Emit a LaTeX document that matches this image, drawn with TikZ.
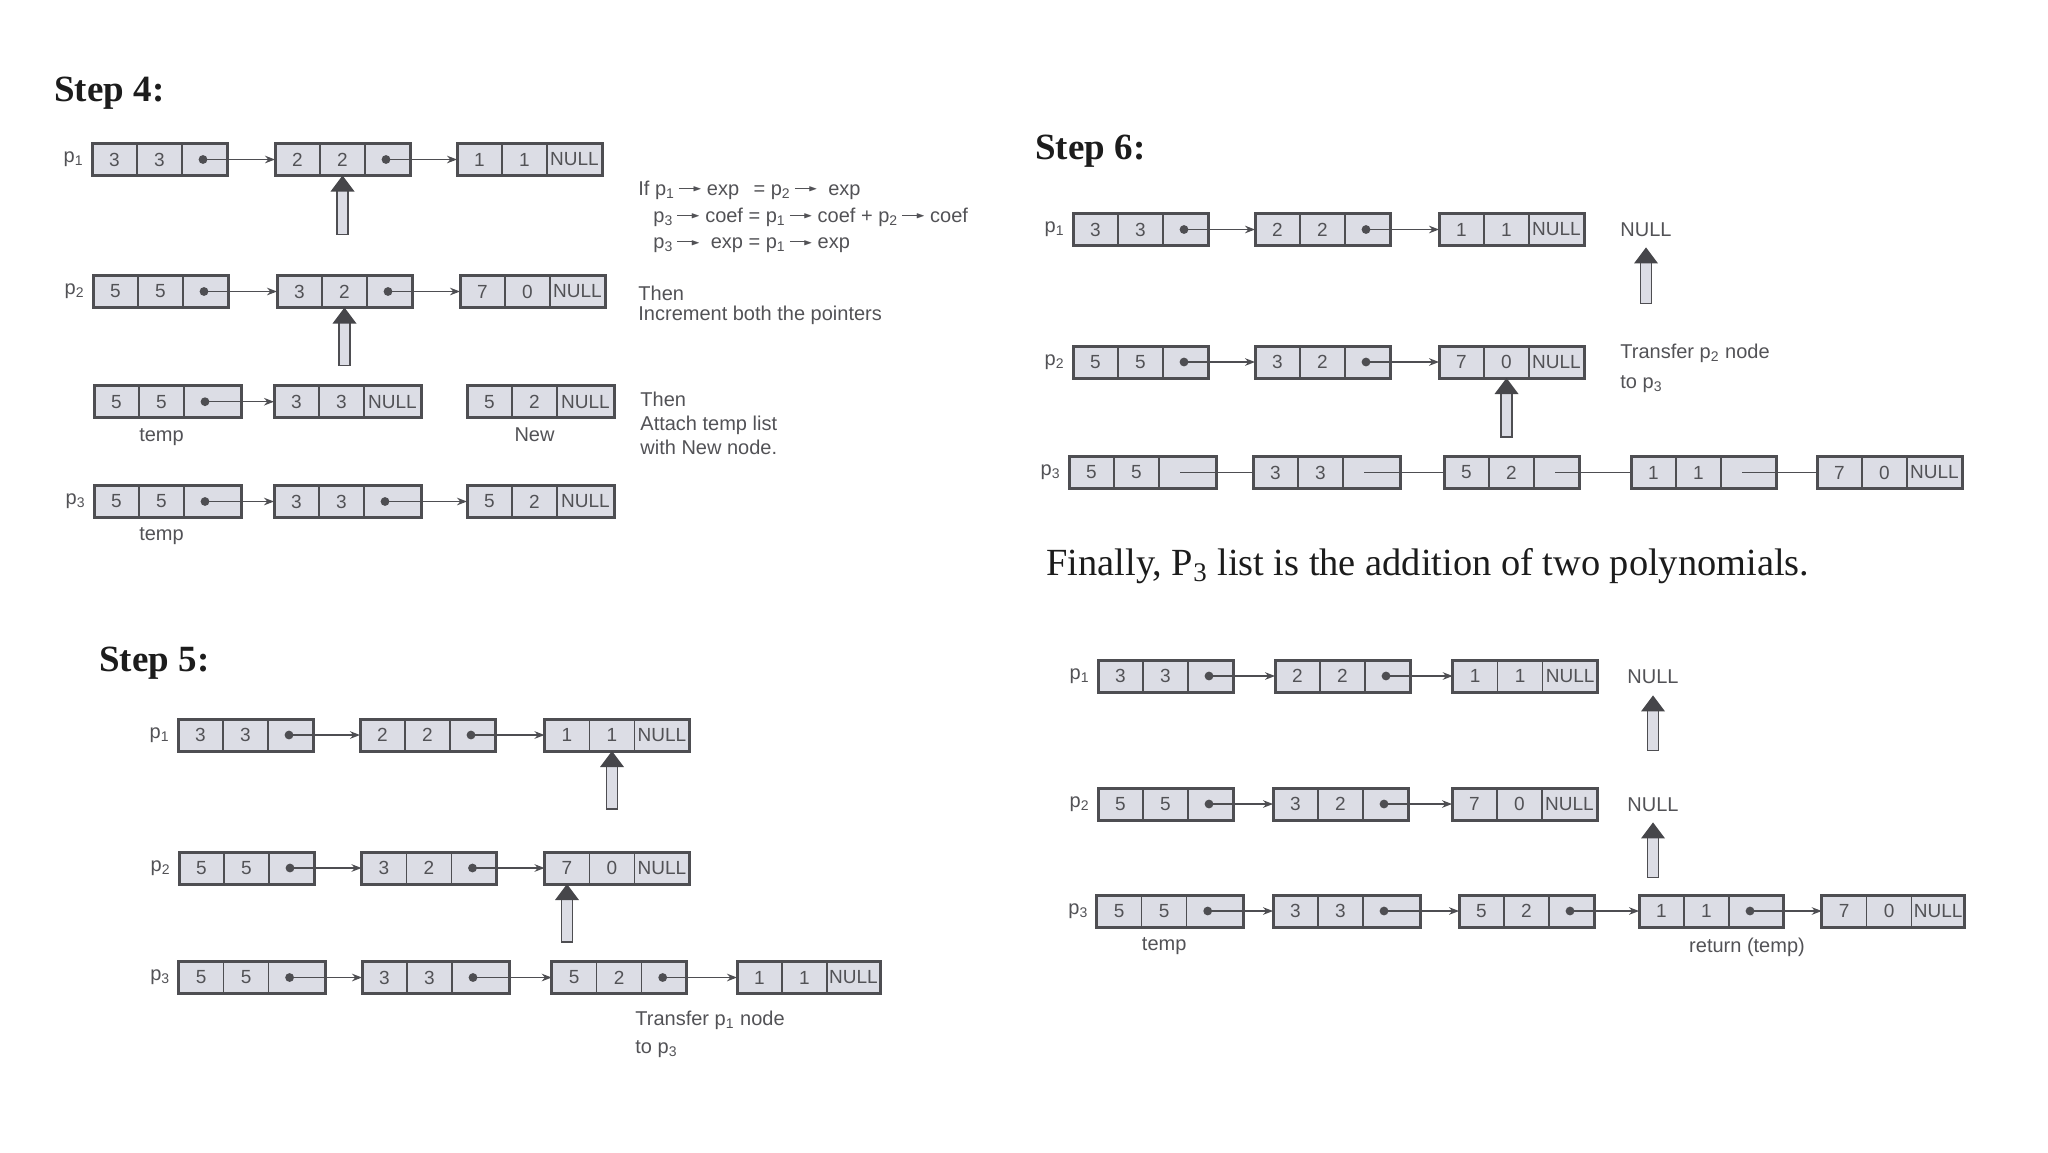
\documentclass[tikz,border=0pt]{standalone}
\usepackage{amssymb}
\usepackage{fontspec}
\setmainfont{Liberation Serif}
\setsansfont{Liberation Sans}
\usetikzlibrary{calc,positioning,arrows.meta}
\definecolor{boxfill}{RGB}{220,221,229}
\definecolor{edge}{RGB}{78,78,82}
\definecolor{ink}{RGB}{82,82,86}
\definecolor{headcol}{RGB}{70,70,74}
\definecolor{dark}{RGB}{28,28,28}
\tikzset{
	cell/.style={draw=edge, fill=boxfill, line width=0.6pt, minimum width=22.5pt, minimum height=16pt, inner sep=0pt, outer sep=0pt, font=\sffamily\fontsize{9.5}{10}\selectfont, text=ink},
	boxedge/.style={draw=edge, line width=1.5pt},
	ptr/.style={draw=edge, line width=0.6pt, -{Stealth[length=5pt,width=3.8pt]}},
	bare/.style={draw=edge, line width=0.6pt},
	txt/.style={font=\sffamily\fontsize{10}{12}\selectfont, text=ink, inner sep=0pt},
	note/.style={txt, anchor=west},
	head/.style={font=\bfseries\fontsize{18.5}{20}\selectfont, text=dark, anchor=base west, inner sep=0pt},
	bigshaft/.style={draw=edge, fill=boxfill, line width=0.7pt},
	arrhead/.style={fill=headcol}
}
% one list node: [link cell width](name)(west point){coef}{exp}{link}
\def\polynode[#1](#2)(#3)#4#5#6{%
	\node[cell, anchor=west] (#2a) at (#3) {#4};
	\node[cell, right=0pt of #2a] (#2b) {#5};
	\node[cell, minimum width={#1*0.5pt}, right=0pt of #2b] (#2c) {#6};
	\draw[boxedge] (#2a.north west) rectangle (#2c.south east);
	\coordinate (#2d) at ($(#2c.west)+(21,0)$);
}
\def\ptrlink(#1)(#2){\fill[edge] (#1d) circle (2.2pt); \draw[ptr] (#1d) -- (#2a.west);}
\def\barelink(#1)(#2){\draw[bare] (#1d) -- (#2a.west);}
% hollow pointer arrow, tip at #1, length #2
\def\hollowup(#1)#2{%
	\draw[bigshaft] ($(#1)+(-5.5,15)$) rectangle ($(#1)+(5.5,#2)$);
	\fill[arrhead] (#1) -- ($(#1)+(-12,16)$) -- ($(#1)+(12,16)$) -- cycle;
}
\newcommand\tarrow{\kern0.2em\rule[0.3em]{0.8em}{0.07em}\kern-0.12em\raisebox{0.16em}{\scalebox{0.6}[0.45]{$\blacktriangleright$}}\kern0.25em}

\begin{document}
\begin{tikzpicture}[x=0.5pt, y=-0.5pt]
			\useasboundingbox (0,0) rectangle (2048,1152);
			
			%%%%% STEP 4 %%%%%
			\node[head] (h4) at (54,101.7) {Step 4:};
			
			\polynode[45](s4p1n1)(92,159.5){3}{3}{}
			\polynode[45](s4p1n2)(275,159.5){2}{2}{}
			\polynode[55](s4p1n3)(457,159.5){1}{1}{NULL}
			\ptrlink(s4p1n1)(s4p1n2)
			\ptrlink(s4p1n2)(s4p1n3)
			\node[txt, left=4pt of s4p1n1a] (s4l1) {p\textsubscript{1}};
			\hollowup(s4p1n2b.south){59}
			
			\polynode[45](s4p2n1)(93,291.5){5}{5}{}
			\polynode[45](s4p2n2)(277,291.5){3}{2}{}
			\polynode[55](s4p2n3)(460,291.5){7}{0}{NULL}
			\ptrlink(s4p2n1)(s4p2n2)
			\ptrlink(s4p2n2)(s4p2n3)
			\node[txt, left=4pt of s4p2n1a] (s4l2) {p\textsubscript{2}};
			\hollowup(s4p2n2b.south){58}
			
			\polynode[57](s4t1)(94,401.7){5}{5}{}
			\polynode[57](s4t2)(274,401.7){3}{3}{NULL}
			\polynode[57](s4new)(467,401.7){5}{2}{NULL}
			\ptrlink(s4t1)(s4t2)
			\node[txt, below=5pt of s4t1b] (s4tmp1) {temp};
			\node[txt, below=5pt of s4newb] (s4newl) {New};
			
			\polynode[57](s4p3n1)(94,501.5){5}{5}{}
			\polynode[57](s4p3n2)(274,501.5){3}{3}{}
			\polynode[57](s4p3n3)(467,501.5){5}{2}{NULL}
			\ptrlink(s4p3n1)(s4p3n2)
			\ptrlink(s4p3n2)(s4p3n3)
			\node[txt, left=4pt of s4p3n1a] (s4l3) {p\textsubscript{3}};
			\node[txt, below=5pt of s4p3n1b] (s4tmp2) {temp};
			
			\node[note] (s4if) at (638,190) {If p\textsubscript{1}\tarrow exp \ \,= p\textsubscript{2}\tarrow\ exp};
			\node[note] (s4coef) at (653,217) {p\textsubscript{3}\tarrow coef = p\textsubscript{1}\tarrow coef + p\textsubscript{2}\tarrow coef};
			\node[note] (s4exp) at (653,245) {p\textsubscript{3}\tarrow\ exp = p\textsubscript{1}\tarrow exp};
			\node[note] (s4then1) at (638,293) {Then};
			\node[note] (s4then2) at (638,315) {Increment both the pointers};
			\node[note, align=left] (s4then3) at (640,423) {Then\\Attach temp list\\with New node.};
			
			%%%%% STEP 6 %%%%%
			\node[head] (h6) at (1035,159) {Step 6:};
			
			\polynode[45](s6p1n1)(1073,229.5){3}{3}{}
			\polynode[45](s6p1n2)(1255,229.5){2}{2}{}
			\polynode[55](s6p1n3)(1439,229.5){1}{1}{NULL}
			\ptrlink(s6p1n1)(s6p1n2)
			\ptrlink(s6p1n2)(s6p1n3)
			\node[txt, left=4pt of s6p1n1a] (s6l1) {p\textsubscript{1}};
			\node[txt] (s6null) at (1646,230) {NULL};
			\coordinate (s6nulltip) at ($(s6null.south)+(0,10)$);
			\hollowup(s6nulltip){56}
			
			\polynode[45](s6p2n1)(1073,362){5}{5}{}
			\polynode[45](s6p2n2)(1255,362){3}{2}{}
			\polynode[55](s6p2n3)(1439,362){7}{0}{NULL}
			\ptrlink(s6p2n1)(s6p2n2)
			\ptrlink(s6p2n2)(s6p2n3)
			\node[txt, left=4pt of s6p2n1a] (s6l2) {p\textsubscript{2}};
			\hollowup(s6p2n3b.south){59}
			\node[note] (s6tr1) at (1620,353) {Transfer p\textsubscript{2} node};
			\node[note] (s6tr2) at (1620,384) {to p\textsubscript{3}};
			
			\polynode[57](s6p3n1)(1069,472.5){5}{5}{}
			\polynode[57](s6p3n2)(1253,472.5){3}{3}{}
			\polynode[45](s6p3n3)(1444,472.5){5}{2}{}
			\polynode[55](s6p3n4)(1631,472.5){1}{1}{}
			\polynode[55](s6p3n5)(1817,472.5){7}{0}{NULL}
			\barelink(s6p3n1)(s6p3n2)
			\barelink(s6p3n2)(s6p3n3)
			\barelink(s6p3n3)(s6p3n4)
			\barelink(s6p3n4)(s6p3n5)
			\node[txt, left=4pt of s6p3n1a] (s6l3) {p\textsubscript{3}};
			
			\node[font=\fontsize{19.2}{21}\selectfont, text=dark, anchor=base west, inner sep=0pt] (fin) at (1046,575) {Finally, P\textsubscript{3} list is the addition of two polynomials.};
			
			%%%%% STEP 5 %%%%%
			\node[head] (h5) at (99,671) {Step 5:};
			
			\polynode[45](s5p1n1)(178,735){3}{3}{}
			\polynode[45](s5p1n2)(360,735){2}{2}{}
			\polynode[55](s5p1n3)(544.5,735){1}{1}{NULL}
			\ptrlink(s5p1n1)(s5p1n2)
			\ptrlink(s5p1n2)(s5p1n3)
			\node[txt, left=4pt of s5p1n1a] (s5l1) {p\textsubscript{1}};
			\hollowup(s5p1n3b.south){58}
			
			\polynode[45](s5p2n1)(179,868){5}{5}{}
			\polynode[45](s5p2n2)(361.5,868){3}{2}{}
			\polynode[55](s5p2n3)(544.5,868){7}{0}{NULL}
			\ptrlink(s5p2n1)(s5p2n2)
			\ptrlink(s5p2n2)(s5p2n3)
			\node[txt, left=4pt of s5p2n1a] (s5l2) {p\textsubscript{2}};
			\hollowup(s5p2n3a.south){58}
			
			\polynode[57](s5p3n1)(178.6,977.5){5}{5}{}
			\polynode[57](s5p3n2)(362,977.5){3}{3}{}
			\polynode[45](s5p3n3)(551.7,977.5){5}{2}{}
			\polynode[53](s5p3n4)(737,977.5){1}{1}{NULL}
			\ptrlink(s5p3n1)(s5p3n2)
			\ptrlink(s5p3n2)(s5p3n3)
			\ptrlink(s5p3n3)(s5p3n4)
			\node[txt, left=4pt of s5p3n1a] (s5l3) {p\textsubscript{3}};
			\node[note] (s5tr1) at (635,1020) {Transfer p\textsubscript{1} node};
			\node[note] (s5tr2) at (635,1049) {to p\textsubscript{3}};
			
			%%%%% RESULT %%%%%
			\polynode[45](fp1n1)(1098,676){3}{3}{}
			\polynode[45](fp1n2)(1275,676){2}{2}{}
			\polynode[55](fp1n3)(1452.7,676){1}{1}{NULL}
			\ptrlink(fp1n1)(fp1n2)
			\ptrlink(fp1n2)(fp1n3)
			\node[txt, left=4pt of fp1n1a] (fl1) {p\textsubscript{1}};
			\node[txt] (fnull1) at (1653,677) {NULL};
			\coordinate (fnulltip1) at ($(fnull1.south)+(0,11)$);
			\hollowup(fnulltip1){55}
			
			\polynode[45](fp2n1)(1098,804){5}{5}{}
			\polynode[45](fp2n2)(1273,804){3}{2}{}
			\polynode[55](fp2n3)(1452,804){7}{0}{NULL}
			\ptrlink(fp2n1)(fp2n2)
			\ptrlink(fp2n2)(fp2n3)
			\node[txt, left=4pt of fp2n1a] (fl2) {p\textsubscript{2}};
			\node[txt] (fnull2) at (1653,805) {NULL};
			\coordinate (fnulltip2) at ($(fnull2.south)+(0,10)$);
			\hollowup(fnulltip2){55}
			
			\polynode[57](fp3n1)(1096.7,911){5}{5}{}
			\polynode[57](fp3n2)(1273,911){3}{3}{}
			\polynode[45](fp3n3)(1459,911){5}{2}{}
			\polynode[54](fp3n4)(1639,911){1}{1}{}
			\polynode[53](fp3n5)(1821.7,911){7}{0}{NULL}
			\ptrlink(fp3n1)(fp3n2)
			\ptrlink(fp3n2)(fp3n3)
			\ptrlink(fp3n3)(fp3n4)
			\ptrlink(fp3n4)(fp3n5)
			\node[txt, left=4pt of fp3n1a] (fl3) {p\textsubscript{3}};
			\node[txt, below=5pt of fp3n1b] (ftmp) {temp};
			\node[txt] (fret) at (1747,947) {return (temp)};
			
\end{tikzpicture}
\end{document}
